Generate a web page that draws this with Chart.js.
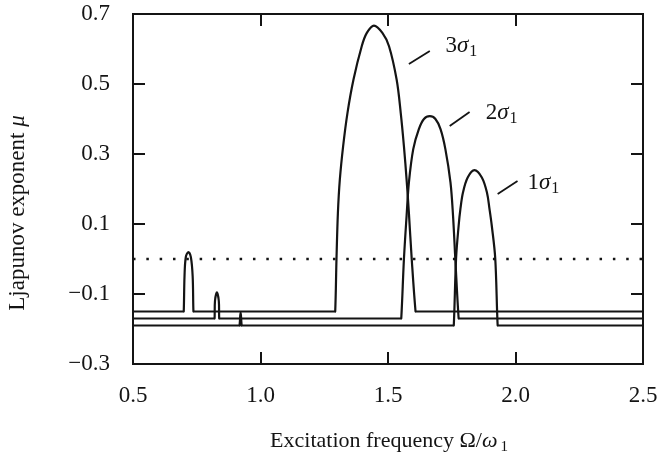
<!DOCTYPE html>
<html>
<head>
<meta charset="utf-8">
<script src="https://cdn.jsdelivr.net/npm/chart.js@4/dist/chart.umd.min.js"></script>
<style>
  html, body { margin: 0; padding: 0; background: #fff; }
  canvas { display: block; }
</style>
</head>
<body>
<canvas id="c" width="662" height="455"></canvas>
<script>
// ---- data ----
const xTicks = [0.5, 1.0, 1.5, 2.0, 2.5];
const yTicks = [-0.3, -0.1, 0.1, 0.3, 0.5, 0.7];
const seriesNames = ['3σ1', '2σ1', '1σ1'];

const sigma3X = [0.5, 0.697, 0.699, 0.702, 0.707, 0.717, 0.727, 0.734, 0.737, 0.739,
  1.290, 1.293, 1.298, 1.3035, 1.311, 1.324, 1.341, 1.3645, 1.397, 1.417, 1.445,
  1.478, 1.504, 1.534, 1.550, 1.5625, 1.573, 1.582, 1.593, 1.608, 1.611, 2.5];
const sigma3Y = [-0.15, -0.15, -0.15, -0.05, 0.005, 0.02, 0.005, -0.05, -0.15, -0.15,
  -0.15, -0.15, 0.0, 0.131, 0.226, 0.322, 0.417, 0.512, 0.608, 0.646, 0.667,
  0.646, 0.608, 0.512, 0.417, 0.322, 0.226, 0.131, 0.0, -0.15, -0.15, -0.15];

const sigma2X = [0.5, 0.818, 0.820, 0.8215, 0.829, 0.8365, 0.838, 0.840,
  1.549, 1.552, 1.5625, 1.573, 1.582, 1.599, 1.621, 1.641, 1.664, 1.686, 1.706,
  1.725, 1.745, 1.755, 1.764, 1.777, 1.780, 2.5];
const sigma2Y = [-0.17, -0.17, -0.17, -0.12, -0.095, -0.12, -0.17, -0.17,
  -0.17, -0.17, 0.0, 0.124, 0.219, 0.314, 0.371, 0.40, 0.408, 0.40, 0.371,
  0.314, 0.219, 0.124, 0.0, -0.17, -0.17, -0.17];

const sigma1X = [0.5, 0.916, 0.918, 0.922, 0.926, 0.928,
  1.755, 1.758, 1.767, 1.777, 1.784, 1.794, 1.8125, 1.839, 1.868, 1.888, 1.898,
  1.907, 1.9205, 1.930, 1.933, 2.5];
const sigma1Y = [-0.19, -0.19, -0.19, -0.152, -0.19, -0.19,
  -0.19, -0.19, 0.002, 0.095, 0.143, 0.19, 0.233, 0.254, 0.233, 0.19, 0.143,
  0.095, 0.002, -0.19, -0.19, -0.19];

const zeroX = [0.5, 2.5];
const zeroY = [0, 0];

// ---- presentation ----
const INK = '#141414';
const FONT = "'Liberation Serif', 'DejaVu Serif', serif";
Chart.defaults.font.family = FONT;
Chart.defaults.color = INK;

const pts = (xs, ys) => xs.map((x, i) => ({ x: x, y: ys[i] }));

// annotation placement (data units): leader line from -> to, label anchor
const annotations = [
  { name: seriesNames[0], from: [1.582, 0.557], to: [1.664, 0.594], at: [1.725, 0.591] },
  { name: seriesNames[1], from: [1.742, 0.380], to: [1.820, 0.420], at: [1.883, 0.400] },
  { name: seriesNames[2], from: [1.930, 0.186], to: [2.008, 0.223], at: [2.047, 0.200] }
];

function drawMath(ctx, parts, x, y, align, size) {
  const sub = Math.round(size * 0.68);
  const fontFor = p => p.style === 'i' ? `italic ${size}px ${FONT}` : (p.style === 'sub' ? `${sub}px ${FONT}` : `${size}px ${FONT}`);
  let w = 0;
  parts.forEach(p => { ctx.font = fontFor(p); w += ctx.measureText(p.t).width + (p.gap || 0); });
  let cx = align === 'center' ? x - w / 2 : x;
  ctx.textAlign = 'left';
  parts.forEach(p => {
    ctx.font = fontFor(p);
    cx += (p.gap || 0);
    ctx.fillText(p.t, cx, p.style === 'sub' ? y + 4 : y);
    cx += ctx.measureText(p.t).width;
  });
}

const framePlugin = {
  id: 'frame',
  afterDraw(chart) {
    const ctx = chart.ctx;
    const a = chart.chartArea;
    const xs = chart.scales.x, ys = chart.scales.y;
    ctx.save();
    ctx.strokeStyle = INK;
    ctx.fillStyle = INK;
    ctx.lineWidth = 2;
    ctx.strokeRect(a.left, a.top, a.right - a.left, a.bottom - a.top);
    const TL = 12;
    ctx.beginPath();
    xs.ticks.forEach(t => {
      const px = Math.round(xs.getPixelForValue(t.value));
      if (px <= a.left + 1 || px >= a.right - 1) return;
      ctx.moveTo(px, a.bottom); ctx.lineTo(px, a.bottom - TL);
      ctx.moveTo(px, a.top); ctx.lineTo(px, a.top + TL);
    });
    ys.ticks.forEach(t => {
      const py = Math.round(ys.getPixelForValue(t.value));
      if (py <= a.top + 1 || py >= a.bottom - 1) return;
      ctx.moveTo(a.left, py); ctx.lineTo(a.left + TL, py);
      ctx.moveTo(a.right, py); ctx.lineTo(a.right - TL, py);
    });
    ctx.stroke();

    ctx.lineWidth = 1.8;
    ctx.textBaseline = 'alphabetic';
    annotations.forEach(an => {
      ctx.beginPath();
      ctx.moveTo(xs.getPixelForValue(an.from[0]), ys.getPixelForValue(an.from[1]));
      ctx.lineTo(xs.getPixelForValue(an.to[0]), ys.getPixelForValue(an.to[1]));
      ctx.stroke();
      const n = an.name;
      drawMath(ctx, [
        { t: n.charAt(0), style: 'n' },
        { t: n.charAt(1), style: 'i' },
        { t: n.charAt(2), style: 'sub', gap: 1 }
      ], xs.getPixelForValue(an.at[0]), ys.getPixelForValue(an.at[1]), 'left', 23);
    });

    drawMath(ctx, [
      { t: 'Excitation frequency Ω/', style: 'n' },
      { t: 'ω', style: 'i' },
      { t: '1', style: 'sub', gap: 3 }
    ], (a.left + a.right) / 2 + 1, 447, 'center', 22);

    ctx.translate(24, 213);
    ctx.rotate(-Math.PI / 2);
    drawMath(ctx, [
      { t: 'Ljapunov exponent ', style: 'n' },
      { t: 'μ', style: 'i' }
    ], 0, 0, 'center', 23);
    ctx.restore();
  }
};

const lineDs = (label, data) => ({
  label: label,
  data: data,
  borderColor: INK,
  borderWidth: 2.2,
  pointRadius: 0,
  fill: false,
  tension: 0.35
});

new Chart(document.getElementById('c'), {
  type: 'line',
  data: {
    datasets: [
      lineDs(seriesNames[0], pts(sigma3X, sigma3Y)),
      lineDs(seriesNames[1], pts(sigma2X, sigma2Y)),
      lineDs(seriesNames[2], pts(sigma1X, sigma1Y)),
      {
        label: 'zero',
        data: pts(zeroX, zeroY),
        borderColor: INK,
        borderWidth: 2.5,
        borderDash: [2.5, 10.83],
        pointRadius: 0,
        fill: false,
        tension: 0
      }
    ]
  },
  options: {
    responsive: false,
    animation: false,
    events: [],
    layout: { padding: { top: 14, right: 19, left: 0, bottom: 0 } },
    plugins: { legend: { display: false }, tooltip: { enabled: false } },
    scales: {
      x: {
        type: 'linear',
        min: 0.5, max: 2.5,
        grid: { display: false, drawTicks: false },
        border: { display: false },
        afterBuildTicks: s => { s.ticks = xTicks.map(v => ({ value: v })); },
        afterFit: s => { s.height = 91; s.paddingLeft = 0; s.paddingRight = 0; },
        ticks: {
          color: INK,
          font: { size: 23, family: FONT },
          padding: 18,
          maxRotation: 0,
          autoSkip: false,
          callback: v => Number(v).toFixed(1)
        }
      },
      y: {
        type: 'linear',
        min: -0.3, max: 0.7,
        grid: { display: false, drawTicks: false },
        border: { display: false },
        afterBuildTicks: s => { s.ticks = yTicks.map(v => ({ value: v })); },
        afterFit: s => { s.width = 133; s.paddingTop = 0; s.paddingBottom = 0; },
        ticks: {
          color: INK,
          font: { size: 23, family: FONT },
          padding: 23,
          autoSkip: false,
          callback: v => (v < -1e-9 ? '−' : '') + Math.abs(v).toFixed(1)
        }
      }
    }
  },
  plugins: [framePlugin]
});
</script>
</body>
</html>
